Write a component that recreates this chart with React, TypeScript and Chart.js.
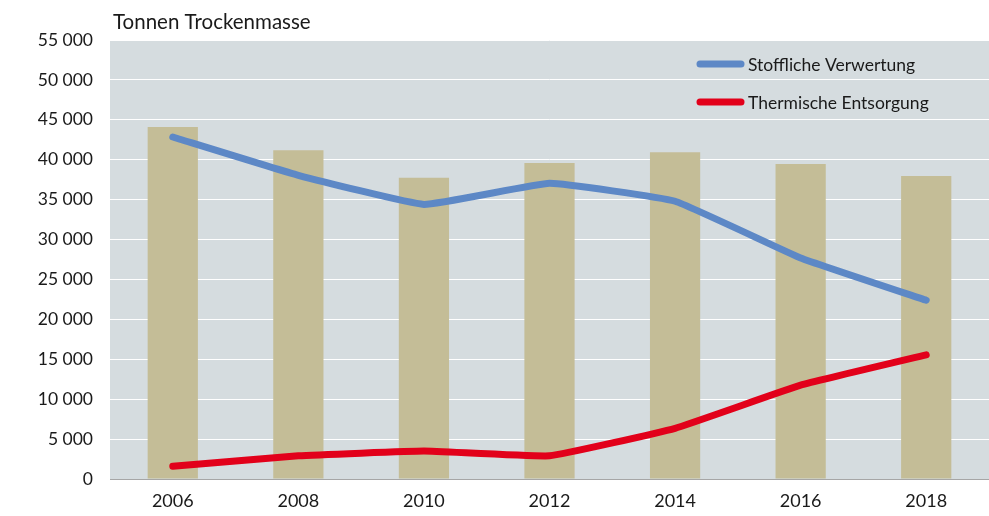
import React, { useEffect, useRef } from "react";
import { Chart, registerables } from "chart.js";
Chart.register(...registerables);

const years = ["2006", "2008", "2010", "2012", "2014", "2016", "2018"];
const totalMass = [44100, 41200, 37750, 39600, 40950, 39450, 37950];
const stofflich = [42850, 38050, 34400, 37050, 34800, 27700, 22400];
const thermisch = [1600, 2900, 3500, 2900, 6350, 11750, 15550];
const yTicks = [0, 5000, 10000, 15000, 20000, 25000, 30000, 35000, 40000, 45000, 50000, 55000];
const unitLabel = "Tonnen Trockenmasse";
const legendLabels = ["Stoffliche Verwertung", "Thermische Entsorgung"];

const FONT = "Lato, 'Noto Sans', sans-serif";
const BLUE = "#5d88c6";
const RED = "#e2001a";
const BAR = "#c4bd97";
const PLOT_BG = "#d5dcdf";

const fmt = (v: number) => {
  const s = String(Math.round(v));
  return s.replace(/\B(?=(\d{3})+(?!\d))/g, " ");
};

const decor = {
  id: "decor",
  beforeDraw(chart: any) {
    const { ctx, chartArea } = chart;
    ctx.save();
    ctx.fillStyle = PLOT_BG;
    ctx.fillRect(chartArea.left, chartArea.top, chartArea.right - chartArea.left, chartArea.bottom - chartArea.top);
    ctx.restore();
  },
  afterDraw(chart: any) {
    const { ctx, chartArea } = chart;
    ctx.save();
    ctx.font = `20.5px ${FONT}`;
    ctx.fillStyle = "#1a1a1a";
    ctx.textBaseline = "middle";
    ctx.textAlign = "left";
    ctx.fillText(unitLabel, chartArea.left + 3, 22);
    const colors = [BLUE, RED];
    const ys = [64, 102];
    legendLabels.forEach((lab, i) => {
      ctx.strokeStyle = colors[i];
      ctx.lineWidth = 7;
      ctx.lineCap = "round";
      ctx.beginPath();
      ctx.moveTo(chartArea.left + 590, ys[i]);
      ctx.lineTo(chartArea.left + 631, ys[i]);
      ctx.stroke();
      ctx.font = `17.5px ${FONT}`;
      ctx.fillStyle = "#1a1a1a";
      ctx.fillText(lab, chartArea.left + 638, ys[i] + 1);
    });
    ctx.restore();
  },
};

export default function App() {
  const ref = useRef<HTMLCanvasElement>(null);
  useEffect(() => {
    document.body.style.margin = "0";
    const chart = new Chart(ref.current!, {
      type: "bar",
      data: {
        labels: years,
        datasets: [
          {
            type: "line",
            label: legendLabels[0],
            data: stofflich,
            borderColor: BLUE,
            backgroundColor: BLUE,
            borderWidth: 7,
            pointRadius: 0,
            borderCapStyle: "round",
            borderJoinStyle: "round",
            tension: 0.1,
            order: 1,
          } as any,
          {
            type: "line",
            label: legendLabels[1],
            data: thermisch,
            borderColor: RED,
            backgroundColor: RED,
            borderWidth: 7,
            pointRadius: 0,
            borderCapStyle: "round",
            borderJoinStyle: "round",
            tension: 0.1,
            order: 0,
          } as any,
          {
            type: "bar",
            label: "Gesamt",
            data: totalMass,
            backgroundColor: BAR,
            categoryPercentage: 1,
            barPercentage: 0.4,
            order: 2,
          },
        ],
      },
      options: {
        animation: false,
        responsive: false,
        maintainAspectRatio: false,
        layout: { padding: { top: 40, right: 0, left: 0, bottom: 0 } },
        plugins: { legend: { display: false }, tooltip: { enabled: false } },
        scales: {
          x: {
            grid: { display: false, drawTicks: false },
            border: { display: true, color: "#a6a6a6", width: 1 },
            ticks: { color: "#1a1a1a", font: { family: FONT, size: 18 }, padding: 11 },
            afterFit: (s: any) => { s.height = 37; },
          },
          y: {
            min: 0,
            max: 55000,
            grid: { color: "#ffffff", lineWidth: 1, drawTicks: false },
            border: { display: false },
            afterBuildTicks: (s: any) => { s.ticks = yTicks.map((v) => ({ value: v })); },
            ticks: {
              color: "#1a1a1a",
              font: { family: FONT, size: 17.5 },
              padding: 17,
              callback: (v: any) => fmt(Number(v)),
            },
            afterFit: (s: any) => { s.width = 110; },
          },
        },
      },
      plugins: [decor],
    });
    return () => chart.destroy();
  }, []);
  return <canvas ref={ref} width={989} height={516} style={{ display: "block", width: 989, height: 516 }} />;
}
